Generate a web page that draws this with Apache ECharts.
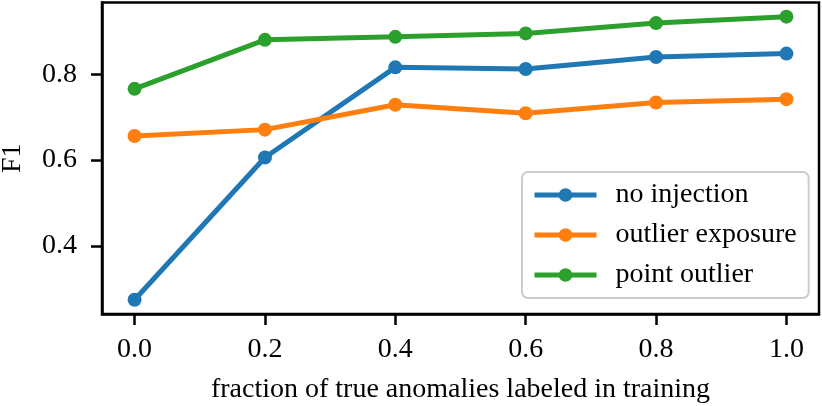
<!DOCTYPE html>
<html>
<head>
<meta charset="utf-8">
<script src="https://cdn.jsdelivr.net/npm/echarts@6/dist/echarts.min.js"></script>
<style>
html,body{margin:0;padding:0;background:#fff;}
#c{width:822px;height:406px;}
</style>
</head>
<body>
<div id="c"></div>
<script>
var xValues = [0.0, 0.2, 0.4, 0.6, 0.8, 1.0];
var noInjection = [0.275, 0.606, 0.816, 0.812, 0.840, 0.848];
var outlierExposure = [0.656, 0.671, 0.729, 0.709, 0.734, 0.742];
var pointOutlier = [0.766, 0.880, 0.887, 0.895, 0.919, 0.934];
var xTicks = [0.0, 0.2, 0.4, 0.6, 0.8, 1.0];
var yTicks = [0.4, 0.6, 0.8];
var seriesNames = ['no injection', 'outlier exposure', 'point outlier'];
var colors = ['#1f77b4', '#ff7f0e', '#2ca02c'];

function pairs(ys){ return xValues.map(function(x,i){ return [x, ys[i]]; }); }

var font = 'Liberation Serif';
var chart = echarts.init(document.getElementById('c'), null, {renderer:'canvas'});
var mk = function(name, data, color){
  return {
    name: name, type: 'line', data: pairs(data),
    symbol: 'circle', symbolSize: 14, showSymbol: true,
    lineStyle: {width: 5, color: color},
    itemStyle: {color: color},
    emphasis: {disabled: true},
    animation: false
  };
};
chart.setOption({
  animation: false,
  textStyle: {fontFamily: font},
  grid: {left: 102, right: 3, top: 2.5, bottom: 92, containLabel: false, outerBoundsMode: 'none',
    show: true, borderColor: '#000', borderWidth: 2.5, backgroundColor: 'transparent'},
  xAxis: {
    type: 'value', min: -0.05, max: 1.05,
    name: 'fraction of true anomalies labeled in training',
    nameLocation: 'middle', nameGap: 62,
    nameTextStyle: {fontFamily: font, fontSize: 28, color: '#000'},
    axisLine: {show: true, onZero: false, lineStyle: {color: '#000', width: 2.5}},
    axisTick: {show: true, inside: false, length: 11, lineStyle: {color: '#000', width: 2.5}, customValues: xTicks},
    axisLabel: {show: true, margin: 22, fontFamily: font, fontSize: 28, color: '#000', customValues: xTicks,
      formatter: function(v){ return v.toFixed(1); }},
    splitLine: {show: false}
  },
  yAxis: {
    type: 'value', min: 0.2417, max: 0.967,
    name: 'F1', nameLocation: 'middle', nameGap: 75,
    nameTextStyle: {fontFamily: font, fontSize: 28, color: '#000'},
    axisLine: {show: true, onZero: false, lineStyle: {color: '#000', width: 2.5}},
    axisTick: {show: true, inside: false, length: 11, lineStyle: {color: '#000', width: 2.5}, customValues: yTicks},
    axisLabel: {show: true, margin: 25, fontFamily: font, fontSize: 28, color: '#000', customValues: yTicks,
      formatter: function(v){ return v.toFixed(1); }},
    splitLine: {show: false}
  },
  legend: {
    show: true, orient: 'vertical',
    left: 522, top: 172, width: 284, height: 128,
    padding: [9, 12, 9, 10],
    itemWidth: 62, itemHeight: 17, itemGap: 12,
    borderColor: '#cccccc', borderWidth: 2, borderRadius: 6,
    backgroundColor: 'rgba(255,255,255,0.8)',
    lineStyle: {width: 5},
    textStyle: {fontFamily: font, fontSize: 28, color: '#000', lineHeight: 28, padding: [0,0,0,14]},
    data: seriesNames
  },
  series: [
    mk(seriesNames[0], noInjection, colors[0]),
    mk(seriesNames[1], outlierExposure, colors[1]),
    mk(seriesNames[2], pointOutlier, colors[2])
  ]
});
</script>
</body>
</html>
